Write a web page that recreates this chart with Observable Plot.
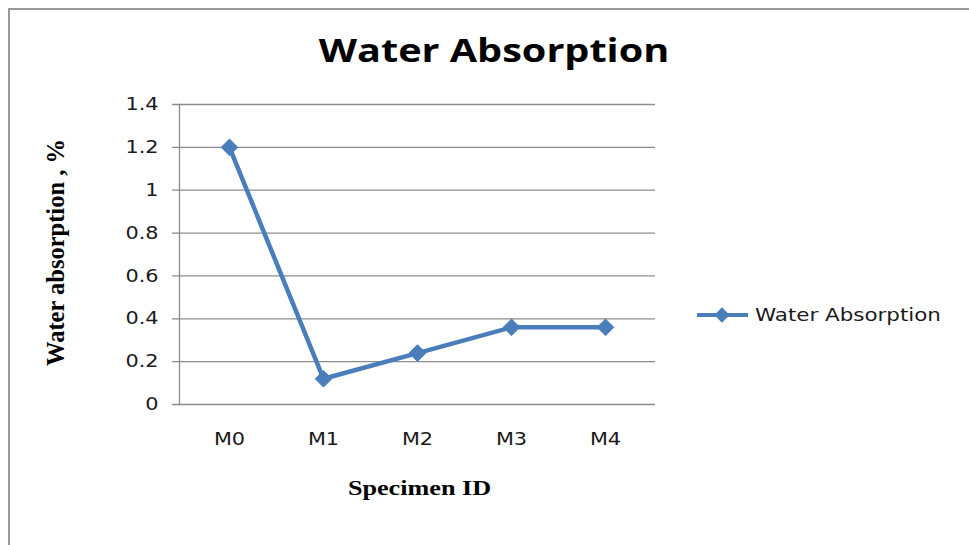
<!DOCTYPE html>
<html>
<head>
<meta charset="utf-8">
<script src="https://cdn.jsdelivr.net/npm/d3@7"></script>
<script src="https://cdn.jsdelivr.net/npm/@observablehq/plot@0.6"></script>
<style>
  html, body { margin: 0; padding: 0; background: #fff; }
  #wrap { position: relative; width: 969px; height: 545px; overflow: hidden; background: #fff; }
  #border { position: absolute; left: 8px; top: 8px; width: 1000px; height: 1000px; border-left: 2px solid #9a9a9a; border-top: 2px solid #9a9a9a; box-sizing: border-box; }
  #title { position: absolute; left: 0; width: 988px; top: 28px; text-align: center; font-family: "Open Sans", Lato, sans-serif; font-weight: bold; font-size: 33px; line-height: 44px; color: #000; transform: scaleX(1.2); transform-origin: 494px 0; }
  #chart { position: absolute; left: 0; top: 0; }
  #legend { position: absolute; left: 0; top: 0; }
</style>
</head>
<body>
<div id="wrap">
  <div id="border"></div>
  <div id="chart"></div>
  <div id="title">Water Absorption</div>
  <svg id="legend" width="969" height="545"></svg>
</div>
<script>
const specimens = ["M0", "M1", "M2", "M3", "M4"];
const waterAbsorption = [1.2, 0.12, 0.24, 0.36, 0.36];
const yTicks = [0, 0.2, 0.4, 0.6, 0.8, 1, 1.2, 1.4];
const yTickLabels = ["0", "0.2", "0.4", "0.6", "0.8", "1", "1.2", "1.4"];
const seriesName = "Water Absorption";
const xLabel = "Specimen ID";
const yLabel = "Water absorption , %";

const data = specimens.map((s, i) => ({specimen: s, value: waterAbsorption[i]}));
const color = "#4a7ebb";
const tickFont = "'DejaVu Sans', Verdana, sans-serif";
const STRETCH = 1.19;

const chart = Plot.plot({
  width: 969,
  height: 545,
  marginTop: 104,
  marginBottom: 141,
  marginLeft: 179,
  marginRight: 314,
  style: {background: "transparent", fontFamily: tickFont, fontSize: "17.5px", color: "#1a1a1a"},
  x: {type: "point", domain: specimens, padding: 0.52, label: null},
  y: {domain: [0, 1.4], label: null},
  marks: [
    Plot.ruleY(yTicks, {stroke: "#8c8c8c", strokeWidth: 1.3, insetLeft: -7}),
    Plot.frame({anchor: "left", stroke: "#8c8c8c", strokeWidth: 1.3}),
    Plot.axisY({ticks: yTicks, tickFormat: d => yTickLabels[yTicks.indexOf(d)], tickSize: 0, tickPadding: 21, fontSize: 17.5, label: null}),
    Plot.axisX({tickSize: 0, tickPadding: 28, fontSize: 17.5, label: null}),
    Plot.line(data, {x: "specimen", y: "value", stroke: color, strokeWidth: 4.5}),
    Plot.dot(data, {x: "specimen", y: "value", symbol: "diamond2", r: 7.5, fill: color, stroke: color, strokeWidth: 1}),
    Plot.text([xLabel], {frameAnchor: "bottom", dy: 90, dx: 2, text: d => d, fontFamily: "'Liberation Serif', serif", fontWeight: "bold", fontSize: 22, fill: "#000"}),
    Plot.text([yLabel], {frameAnchor: "left", dx: -123, dy: -2, rotate: -90, textAnchor: "middle", text: d => d, fontFamily: "'Liberation Serif', serif", fontWeight: "bold", fontSize: 24.5, fill: "#000"})
  ]
});
document.getElementById("chart").appendChild(chart);

// legend
const lg = d3.select("#legend");
const ly = 315;
lg.append("line").attr("x1", 697).attr("x2", 748).attr("y1", ly).attr("y2", ly).attr("stroke", color).attr("stroke-width", 4);
lg.append("path").attr("d", d3.symbol(d3.symbolDiamond2, 150)()).attr("transform", `translate(722,${ly})`).attr("fill", color);
lg.append("text").attr("x", 755).attr("y", ly + 6).attr("font-family", tickFont).attr("font-size", 18).attr("fill", "#1a1a1a").text(seriesName);

// horizontal stretch of text, matching the reference's wide glyphs
function stretch(root) {
  root.querySelectorAll("text").forEach(el => {
    if (el.textContent === yLabel) return;
    const bb = el.getBBox();
    const anchor = getComputedStyle(el).textAnchor;
    const ax = anchor === "middle" ? bb.x + bb.width / 2 : anchor === "end" ? bb.x + bb.width : bb.x;
    const t = el.getAttribute("transform") || "";
    el.setAttribute("transform", `${t} translate(${ax},0) scale(${STRETCH},1) translate(${-ax},0)`);
  });
}
stretch(chart);
stretch(document.getElementById("legend"));
</script>
</body>
</html>
